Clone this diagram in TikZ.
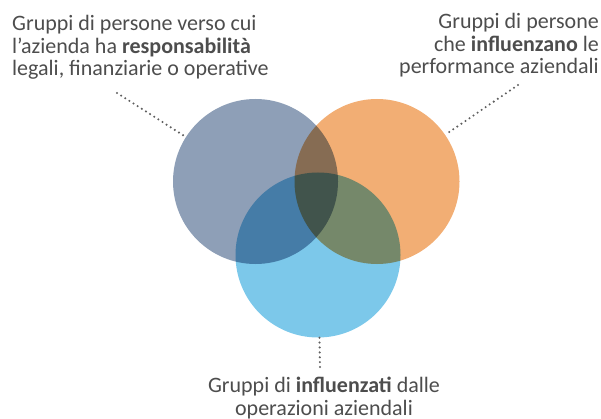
\documentclass[tikz,border=0pt]{standalone}
\usepackage{fontspec}
\setmainfont{Carlito}
\definecolor{setgray}{HTML}{8E9FB7}
\definecolor{setorange}{HTML}{F2AE74}
\definecolor{setblue}{HTML}{7CC8EA}
\definecolor{txtgray}{HTML}{4D4D4D}
\definecolor{dotgray}{HTML}{5F5F5F}

\begin{document}
\begin{tikzpicture}[x=1pt,y=-1pt,
    set/.style={circle,minimum size=165pt,inner sep=0pt},
    caption/.style={inner sep=0pt,text=txtgray,font=\fontsize{22}{22.7}\selectfont},
    leader/.style={dotgray,line width=2.3pt,dash pattern=on 0pt off 4.9pt,line cap=round}]
\useasboundingbox (0,0) rectangle (601,419);
\begin{scope}[blend group=multiply]
\node[set,fill=setgray] (set0) at (255.5,181.5){};
\node[set,fill=setorange] (set1) at (377,181.5){};
\node[set,fill=setblue] (set2) at (318,255){};
\end{scope}
\node[caption,align=left,anchor=north west] (node0) at (12,15){Gruppi di persone verso cui\\l'azienda ha \textbf{responsabilità}\\legali, finanziarie o operative};
\node[caption,align=right,anchor=north east] (node1) at (599,13){Gruppi di persone\\che \textbf{influenzano} le\\performance aziendali};
\node[caption,align=center,anchor=north] (node2) at (324,377){Gruppi di \textbf{influenzati} dalle\\operazioni aziendali};
\coordinate (end0) at (117,93);
\coordinate (end1) at (518,85);
\coordinate (end2) at (320,368);
\draw[leader] (end0) -- (set0);
\draw[leader] (end1) -- (set1);
\draw[leader] (set2) -- (end2);
\end{tikzpicture}
\end{document}
